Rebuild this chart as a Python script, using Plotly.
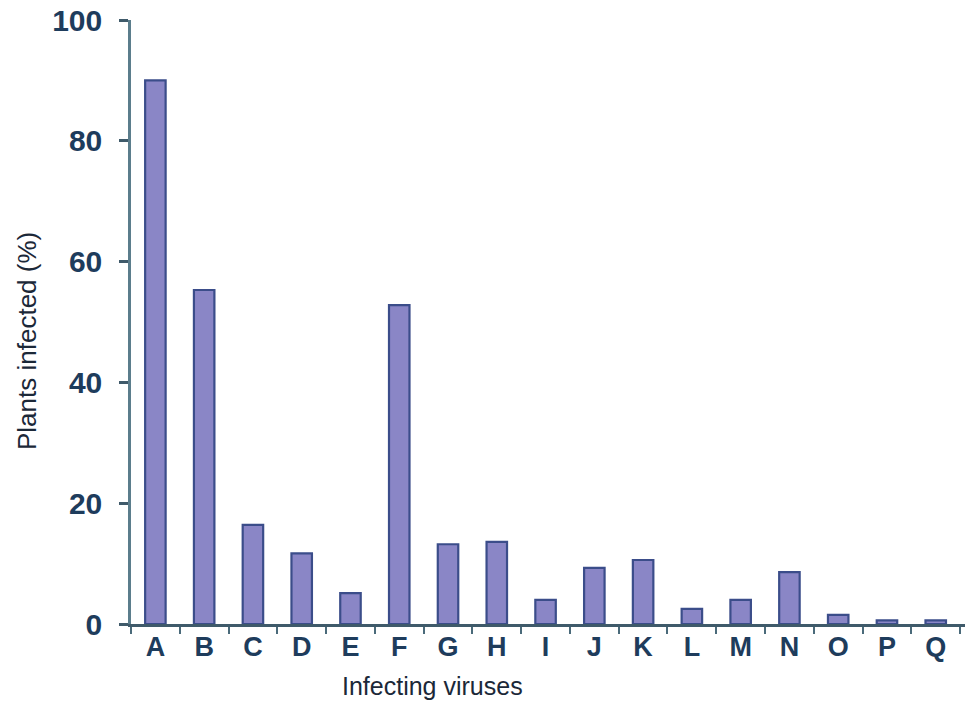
import plotly.graph_objects as go

categories = ["A", "B", "C", "D", "E", "F", "G", "H", "I", "J", "K", "L", "M", "N", "O", "P", "Q"]
plants_infected = [90, 55.3, 16.4, 11.7, 5.1, 52.8, 13.2, 13.6, 4.0, 9.3, 10.6, 2.5, 4.0, 8.6, 1.5, 0.6, 0.6]
y_ticks = [0, 20, 40, 60, 80, 100]

tick_color = "#1e3c5c"
title_color = "#1b2838"
font_family = "Liberation Sans, Arial, sans-serif"

W, H = 965, 706
L, R, T = 131, 0, 20
B = H - 624

fig = go.Figure()
fig.add_trace(go.Bar(
    x=categories,
    y=plants_infected,
    marker=dict(color="#8a86c6", line=dict(color="#3b4d8a", width=2.2)),
    width=0.42,
))

fig.update_layout(
    width=W, height=H,
    margin=dict(l=L, r=R, t=T, b=B, autoexpand=False),
    paper_bgcolor="white", plot_bgcolor="white",
    showlegend=False,
    font=dict(family=font_family, color=tick_color),
    xaxis=dict(
        type="category", automargin=False,
        showline=True, linecolor="#3f5a6a", linewidth=2.5,
        ticks="outside", tickson="boundaries", ticklen=7, tickwidth=2, tickcolor="#4a6a7a",
        tickfont=dict(size=27, color=tick_color, weight="bold"),
        ticklabelstandoff=-3,
        showgrid=False, zeroline=False,
        range=[-0.5, 16.6],
    ),
    yaxis=dict(
        range=[0, 100], automargin=False,
        tickvals=y_ticks,
        showline=True, linecolor="#5b7d8c", linewidth=2.5,
        ticks="outside", ticklen=9, tickwidth=3, tickcolor="#3f5a6a",
        tickfont=dict(size=30, color=tick_color, weight="bold"),
        ticklabelstandoff=11, ticklabeloverflow="allow",
        showgrid=False, zeroline=False,
    ),
    annotations=[
        dict(text="Infecting viruses", x=(432 - L) / (W - L - R), xref="paper",
             y=0, yref="paper", yshift=-62, showarrow=False,
             font=dict(family=font_family, size=25, color=title_color), xanchor="center", yanchor="middle"),
        dict(text="Plants infected (%)", x=0, xref="paper", xshift=-L + 27,
             y=(624 - 341) / (624 - 20), yref="paper", showarrow=False, textangle=-90,
             font=dict(family=font_family, size=26, color=title_color), xanchor="center", yanchor="middle"),
    ],
)

fig.write_html("out.html", config={"displayModeBar": False},
               post_script="document.body.style.margin='0';")
